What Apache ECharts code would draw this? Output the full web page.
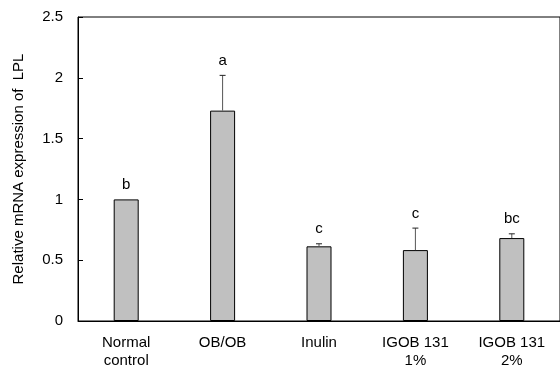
<!DOCTYPE html>
<html><head><meta charset="utf-8">
<script src="https://cdn.jsdelivr.net/npm/echarts@6/dist/echarts.min.js"></script>
<style>html,body{margin:0;padding:0;background:#fff}#c{width:560px;height:370px}</style>
</head><body><div id="c"></div>
<script>
var categories = ['Normal\ncontrol', 'OB/OB', 'Inulin', 'IGOB 131\n1%', 'IGOB 131\n2%'];
var values = [1.0, 1.73, 0.614, 0.583, 0.682];
var errors = [0.0, 0.29, 0.021, 0.181, 0.035];
var letters = ['b', 'a', 'c', 'c', 'bc'];
var yTicks = [0, 0.5, 1, 1.5, 2, 2.5];

var font = 'Liberation Sans, Arial, sans-serif';
var chart = echarts.init(document.getElementById('c'));
chart.setOption({
  animation: false,
  grid: { left: 78, right: -3, top: 17, bottom: 49, containLabel: false,
          show: true, borderColor: '#000', borderWidth: 1 },
  xAxis: {
    type: 'category', data: categories,
    axisLine: { lineStyle: { color: '#000', width: 1 } },
    axisTick: { show: false },
    axisLabel: { color: '#000', fontFamily: font, fontSize: 15, lineHeight: 18, margin: 13, interval: 0 }
  },
  yAxis: {
    type: 'value', min: 0, max: 2.5, interval: 0.5,
    name: 'Relative mRNA expression of  LPL', nameLocation: 'middle', nameGap: 52,
    nameTextStyle: { color: '#000', fontFamily: font, fontSize: 15 },
    axisLine: { show: true, lineStyle: { color: '#000', width: 1 } },
    axisTick: { show: true, inside: true, length: 5, lineStyle: { color: '#000' } },
    axisLabel: { color: '#000', fontFamily: font, fontSize: 15, margin: 15,
      formatter: function (v) { return yTicks.indexOf(v) >= 0 ? String(v) : ''; } },
    splitLine: { show: false }
  },
  series: [{
    type: 'bar', data: values, barWidth: 25,
    itemStyle: { color: '#c0c0c0', borderColor: '#000', borderWidth: 1 }
  }, {
    type: 'custom',
    data: values.map(function (v, i) { return [i, v, v + errors[i], letters[i]]; }),
    renderItem: function (params, api) {
      var base = api.coord([api.value(0), api.value(1)]);
      var top = api.coord([api.value(0), api.value(2)]);
      var children = [];
      if (errors[params.dataIndex] > 0) {
        children.push({ type: 'line', shape: { x1: base[0], y1: base[1], x2: top[0], y2: top[1] },
          style: { stroke: '#555', lineWidth: 1 } });
        children.push({ type: 'line', shape: { x1: top[0] - 3, y1: top[1], x2: top[0] + 3, y2: top[1] },
          style: { stroke: '#222', lineWidth: 1 } });
      }
      children.push({ type: 'text', x: top[0], y: top[1] - 7,
        style: { text: letters[params.dataIndex], fill: '#000', font: '15px ' + font,
                 textAlign: 'center', textVerticalAlign: 'bottom' } });
      return { type: 'group', children: children };
    },
    z: 5
  }]
});
</script></body></html>
